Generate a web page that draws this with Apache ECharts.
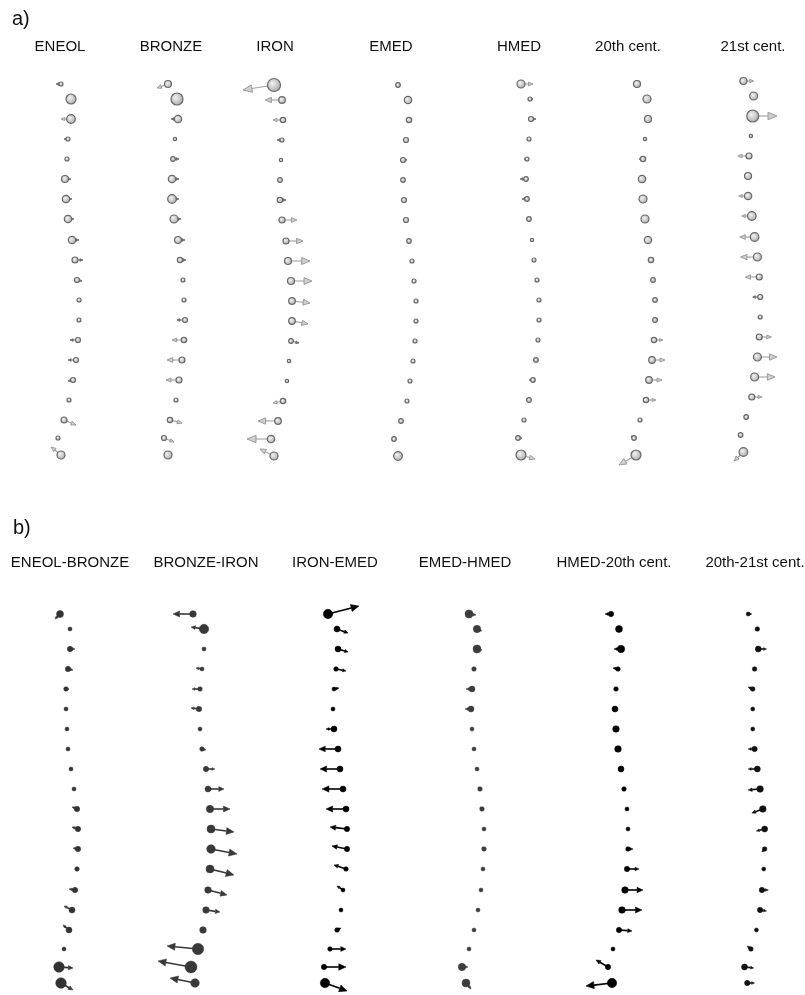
<!DOCTYPE html>
<html>
<head>
<meta charset="utf-8">
<script src="https://cdn.jsdelivr.net/npm/echarts@6/dist/echarts.min.js"></script>
<style>
html, body { margin: 0; padding: 0; background: #fff; }
#chart { width: 805px; height: 995px; }
</style>
</head>
<body>
<div id="chart"></div>
<script>
// landmark rows (vertical position along the column), shared by all columns of a panel
var rowsA = [84, 99, 119, 139, 159, 179, 199, 219, 240, 260, 280, 300, 320, 340, 360, 380, 400, 420, 438, 455];
var rowsB = [614, 629, 649, 669, 689, 709, 729, 749, 769, 789, 809, 829, 849, 869, 890, 910, 930, 949, 967, 983];

// each landmark: [x, radius, vector dx, vector dy]
var eneol = [[61,2,-5,0],[71,5,0,0],[71,4.3,-10,0],[68,2,-4,0],[67,2,0,0],[65,3.5,6,0],[66,3.7,6,0],[68,3.7,6,0],[72,3.7,7,0],[75,3,8,0],
  [77,2.5,5,1],[79,2,0,0],[79,2,0,0],[78,2.5,-8,0],[76,2.5,-8,0],[73,2.5,-5,1],[69,2,0,0],[64,3,12,5],[58,2,0,0],[61,4,-10,-8]];
var bronze = [[168,3.5,-11,4],[177,6,0,0],[178,3.7,-7,0],[175,1.7,0,0],[173,2.3,6,0],[172,3.7,7,0],[172,4.3,7,0],[174,4,7,0],[178,3.5,7,0],[180,2.7,6,0],
  [183,2,0,0],[184,2,0,0],[185,2.5,-8,0],[184,2.7,-12,0],[182,3,-15,0],[179,3,-13,0],[176,2,0,0],[170,2.7,12,3],[164,2.5,10,4],[168,4,0,0]];
var iron = [[274,6.5,-31,5],[282,3.3,-17,0],[283,2.7,-10,0],[282,2,-5,0],[281,1.7,0,0],[280,2.3,0,0],[280,2.7,6,0],[282,3,15,0],[286,3,17,0],[288,3.5,22,0],
  [291,3.5,21,0],[292,3.3,18,2],[292,3.3,16,3],[291,2.3,8,2],[289,1.7,0,0],[287,1.7,0,0],[283,2.7,-10,2],[278,3.3,-20,0],[271,3.7,-24,0],[274,4,-14,-7]];
var emed = [[398,2.3,0,0],[408,3.7,0,0],[409,2.7,0,0],[406,2.5,0,0],[403,2.5,4,0],[403,2.3,0,0],[404,2.5,0,0],[406,2.5,0,0],[409,2.3,0,0],[412,2,0,0],
  [414,2,0,0],[416,2,0,0],[416,2,0,0],[415,2,0,0],[413,2,0,0],[410,2,0,0],[407,2,0,0],[401,2.3,0,0],[394,2.3,0,0],[398,4.3,5,-1]];
var hmed = [[521,4,12,0],[530,2,3,0],[531,2.5,5,0],[529,2,0,0],[527,2,-3,0],[526,2.3,-6,0],[527,2.3,-5,0],[529,2.3,-3,0],[532,1.7,0,0],[534,2,0,0],
  [537,2,0,0],[539,2,0,0],[539,2,0,0],[538,2,0,0],[536,2.3,-3,0],[533,2.3,-4,0],[529,2.3,-3,-1],[524,2,0,0],[518,2.3,4,0],[521,5,14,4]];
var cent20 = [[637,3.5,0,0],[647,4,0,0],[648,3.5,0,0],[645,1.7,0,0],[643,2.7,-4,0],[642,3.7,0,0],[643,4,0,0],[645,4,0,0],[648,3.7,0,0],[651,2.7,0,0],
  [653,2.3,0,0],[655,2.3,0,0],[655,2.3,3,-1],[654,2.7,9,0],[652,3.3,13,0],[649,3.3,13,0],[646,2.7,10,0],[640,2,0,0],[634,2.3,-3,-2],[636,5,-17,10]];
var cent21 = [[747,3.5,11,0],[758,4,0,0],[757,6,26,0],[755,1.7,0,0],[753,3,-12,0],[752,3.5,0,0],[752,3.7,-10,0],[756,4.3,-11,0],[759,4.3,-16,0],[762,4,-18,0],
  [764,3,-15,0],[765,2.5,-8,0],[765,2,0,0],[764,3,13,0],[762,4,21,0],[759,4,22,0],[756,3,11,0],[750,2.3,0,0],[744,2.3,0,0],[747,4.3,-10,9]];

var eneolBronze = [[60,3.5,-5,5],[70,2,0,0],[70,2.7,5,0],[68,2.7,5,1],[66,2.3,3,0],[66,2,0,0],[67,2,0,0],[68,2,0,0],[71,2,0,0],[74,2,0,0],
  [77,2.7,-5,-2],[78,2.7,-6,-2],[78,2.7,-5,-1],[77,2.3,0,0],[75,2.7,-6,-1],[72,3,-8,-4],[69,3,-6,-5],[64,2,0,0],[59,5.3,14,1],[61,5.3,12,7]];
var bronzeIron = [[193,3.3,-20,0],[204,4.7,-13,-2],[204,2,0,0],[202,2,-6,-1],[200,2.3,-8,0],[199,2.7,-8,-1],[200,2,0,0],[202,2.3,4,1],[206,2.7,9,0],[208,3,16,0],
  [210,3.7,20,0],[211,4,23,3],[211,4.3,26,5],[210,4,24,6],[208,3.3,19,5],[206,3.3,14,2],[203,3.3,0,0],[198,5.7,-31,-3],[191,6,-33,-6],[195,4.3,-25,-5]];
var ironEmed = [[328,4.7,31,-8],[337,3,11,4],[338,3,10,3],[336,2.3,10,2],[334,2,5,-1],[333,2,0,0],[334,3,-8,0],[338,3,-19,0],[340,3,-20,0],[343,3,-21,0],
  [346,3,-20,0],[347,2.7,-17,-2],[347,2.7,-15,-3],[346,2.3,-12,-4],[343,2,-6,-4],[341,2,0,0],[337,2.3,4,-2],[330,2.3,16,0],[324,2.7,22,0],[325,4.7,22,8]];
var emedHmed = [[469,4,7,1],[477,3.7,5,2],[477,4,5,1],[474,2.3,0,0],[472,3,-6,0],[471,3,-6,0],[472,2,0,0],[474,2,0,0],[477,2,0,0],[480,2.3,-2,-2],
  [482,2.3,-2,-2],[484,2,0,0],[484,2.3,-2,-2],[483,2,0,0],[481,2,0,0],[478,2,0,0],[474,2,0,0],[469,2,0,0],[462,3.7,6,0],[466,4,5,6]];
var hmed20 = [[611,2.7,-6,0],[619,3.5,0,0],[621,3.7,-7,0],[618,2.3,-5,-1],[616,2.3,0,0],[615,3,0,0],[616,3.3,0,0],[618,3.3,0,0],[621,3,0,0],[624,2.3,0,0],
  [627,2,0,0],[628,2,0,0],[628,2.3,5,0],[627,2.7,12,0],[625,3.3,18,0],[622,3.3,20,0],[619,2.7,13,1],[613,2,0,0],[608,2.7,-12,-7],[612,4.7,-26,3]];
var c20c21 = [[753,2,4,0],[763,2.3,2,1],[764,3,9,0],[760,2.3,0,0],[758,2.3,-5,-2],[758,2,0,0],[758,2,0,0],[760,2.7,-7,0],[763,3,-10,0],[766,3.3,-13,1],
  [769,3.3,-12,4],[771,3,-9,2],[771,2.3,-3,3],[770,2,0,0],[768,2.7,7,0],[766,2.7,7,1],[762,2,0,0],[756,2.3,-4,-3],[749,3,10,1],[752,2.7,8,0]];

var namesA = ['ENEOL', 'BRONZE', 'IRON', 'EMED', 'HMED', '20th cent.', '21st cent.'];
var namesB = ['ENEOL-BRONZE', 'BRONZE-IRON', 'IRON-EMED', 'EMED-HMED', 'HMED-20th cent.', '20th-21st cent.'];
var dataA = [eneol, bronze, iron, emed, hmed, cent20, cent21];
var dataB = [eneolBronze, bronzeIron, ironEmed, emedHmed, hmed20, c20c21];

// layout
var centersA = [60, 171, 275, 391, 519, 628, 753];
var centersB = [70, 206, 335, 465, 614, 755];
var shiftA = [0, 0, 1, 1, 0, 0, -3];
var colorsB = ['#333', '#383838', '#000', '#3c3c3c', '#000', '#111'];
var FONT = 'Liberation Sans, Arial, sans-serif';

var chart = echarts.init(document.getElementById('chart'));

var grids = [], xAxes = [], yAxes = [], series = [], graphics = [];

function addColumn(cx, pts, rows, shift, panel, color) {
  var idx = grids.length;
  grids.push({ left: cx - 60, width: 120, top: 0, height: 995 });
  xAxes.push({ type: 'value', gridIndex: idx, min: cx - 60, max: cx + 60, show: false });
  yAxes.push({ type: 'value', gridIndex: idx, min: 0, max: 995, inverse: true, show: false });
  series.push({
    type: 'custom',
    xAxisIndex: idx,
    yAxisIndex: idx,
    silent: true,
    data: pts.map(function (p, i) { return [p[0], rows[i] + shift, p[1], p[2], p[3]]; }),
    renderItem: function (params, api) {
      var x = api.value(0), y = api.value(1), r = api.value(2);
      var p0 = api.coord([x, y]);
      var p1 = api.coord([x + api.value(3), y + api.value(4)]);
      var kids = [];
      var len = Math.sqrt(Math.pow(p1[0] - p0[0], 2) + Math.pow(p1[1] - p0[1], 2));
      if (len > 0.5) {
        var ux = (p1[0] - p0[0]) / len, uy = (p1[1] - p0[1]) / len;
        var hl = panel === 'a' ? Math.min(9, Math.max(3, len * 0.38)) : Math.min(8, Math.max(3, len * 0.33));
        var hw = hl * (panel === 'a' ? 0.42 : 0.45);
        var bx = p1[0] - ux * hl, by = p1[1] - uy * hl;
        var dark = len < 9;
        kids.push({
          type: 'line',
          shape: { x1: p0[0], y1: p0[1], x2: bx, y2: by },
          style: panel === 'a'
            ? { stroke: dark ? '#808080' : '#a0a0a0', lineWidth: 1.1 }
            : { stroke: color, lineWidth: 1.6 }
        });
        kids.push({
          type: 'polygon',
          shape: { points: [[p1[0], p1[1]], [bx - uy * hw, by + ux * hw], [bx + uy * hw, by - ux * hw]] },
          style: panel === 'a'
            ? { fill: dark ? '#7a7a7a' : '#cfcfcf', stroke: dark ? '#6a6a6a' : '#949494', lineWidth: 0.9 }
            : { fill: color, stroke: color, lineWidth: 0.5 }
        });
      }
      kids.push({
        type: 'circle',
        shape: { cx: p0[0], cy: p0[1], r: r },
        style: panel === 'a'
          ? {
              fill: new echarts.graphic.RadialGradient(0.4, 0.4, 0.75, [
                { offset: 0, color: '#f2f2f2' }, { offset: 1, color: '#989898' }
              ]),
              stroke: '#686868', lineWidth: 1.2
            }
          : { fill: color, stroke: color, lineWidth: 0.5 }
      });
      return { type: 'group', children: kids };
    }
  });
}

dataA.forEach(function (pts, i) {
  addColumn(centersA[i], pts, rowsA, shiftA[i], 'a');
  graphics.push({ type: 'text', x: centersA[i], y: 47,
    style: { text: namesA[i], fontSize: 15, fontFamily: FONT, fill: '#111', align: 'center', verticalAlign: 'middle' } });
});
dataB.forEach(function (pts, i) {
  addColumn(centersB[i], pts, rowsB, 0, 'b', colorsB[i]);
  graphics.push({ type: 'text', x: centersB[i], y: 563,
    style: { text: namesB[i], fontSize: 15, fontFamily: FONT, fill: '#111', align: 'center', verticalAlign: 'middle' } });
});
graphics.push({ type: 'text', x: 12, y: 19,
  style: { text: 'a)', fontSize: 20, fontFamily: FONT, fill: '#111', align: 'left', verticalAlign: 'middle' } });
graphics.push({ type: 'text', x: 13, y: 528,
  style: { text: 'b)', fontSize: 20, fontFamily: FONT, fill: '#111', align: 'left', verticalAlign: 'middle' } });

chart.setOption({
  animation: false,
  backgroundColor: '#fff',
  grid: grids,
  xAxis: xAxes,
  yAxis: yAxes,
  series: series,
  graphic: graphics
});
</script>
</body>
</html>
